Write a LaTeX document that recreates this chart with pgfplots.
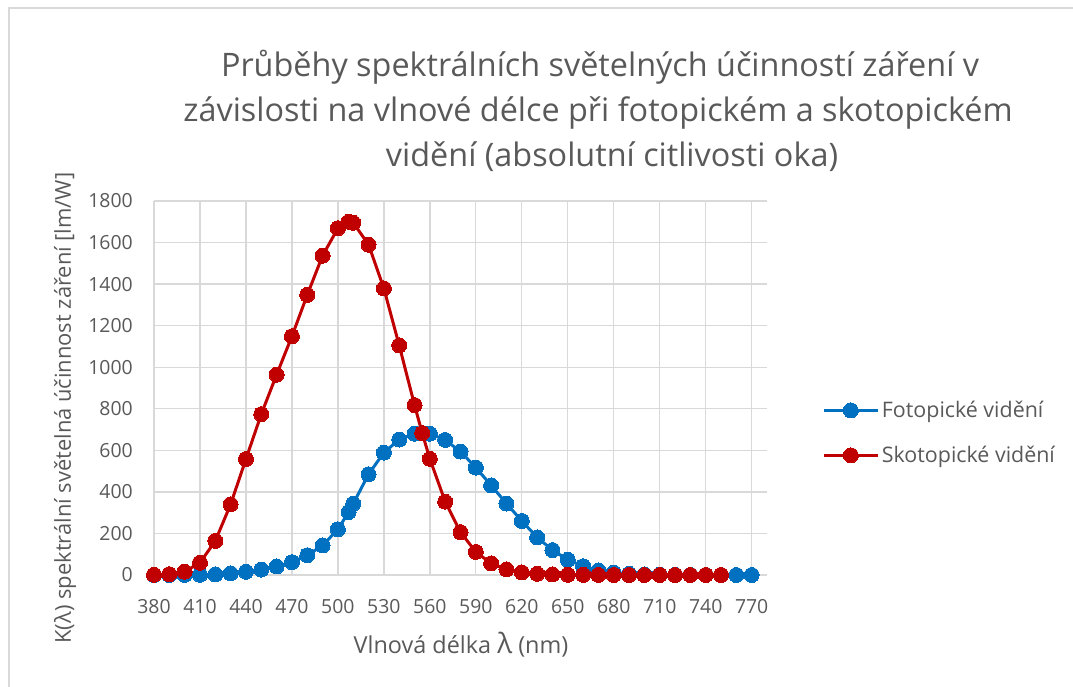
\documentclass[border=0pt]{standalone}
\usepackage{pgfplots}
\pgfplotsset{compat=1.18}
\usepackage{fontspec}
\setmainfont{Open Sans}
\definecolor{fblue}{HTML}{0070C0}
\definecolor{sred}{HTML}{C00000}
\definecolor{tgray}{HTML}{595959}
\definecolor{gridc}{HTML}{D9D9D9}
\begin{document}
\begin{tikzpicture}[x=1bp,y=1bp]
\useasboundingbox (0,0) rectangle (1073,687);
\draw[color=gridc, line width=1.5bp] (9,0) -- (9,679) -- (1073,679);
\begin{axis}[
  at={(154bp,112bp)}, anchor=south west,
  width=613bp, height=374bp, scale only axis,
  xmin=380, xmax=780, ymin=0, ymax=1800,
  xtick={380,410,...,770}, ytick={0,200,...,1800},
  axis line style={draw=none},
  major tick length=0pt,
  grid=major,
  grid style={color=gridc, line width=1.3bp},
  /pgf/number format/assume math mode=true,
  /pgf/number format/1000 sep={},
  tick label style={font=\fontsize{19.5}{23}\selectfont, text=tgray},
  yticklabel style={anchor=east, inner sep=0pt, xshift=-21bp},
  xticklabel style={anchor=north, inner sep=0pt, yshift=-24bp},
  legend style={at={(1.09,0.38)}, anchor=west, draw=none, fill=none, inner sep=0pt,
    row sep=22bp, font=\fontsize{21.5}{25}\selectfont, text=tgray,
    nodes={inner sep=2.5bp}},
  legend cell align=left,
  legend image code/.code={\draw[mark repeat=2,mark phase=2] plot coordinates {(0bp,0bp) (27bp,0bp) (54bp,0bp)};},
  clip=false,
]
\addplot[color=fblue, line width=3bp, mark=*, mark size=7.5bp, mark options={solid, fill=fblue, draw=fblue, line width=0pt}] coordinates {
(380,0.03) (390,0.08) (400,0.27) (410,0.82) (420,2.73) (430,7.9) (440,15.7) (450,26) (460,41) (470,62)
(480,95) (490,142) (500,220) (507,303) (510,343) (520,485) (530,589) (540,652) (550,680) (555,683)
(560,680) (570,650) (580,594) (590,517) (600,431) (610,344) (620,260) (630,181) (640,120) (650,73)
(660,42) (670,22) (680,11.6) (690,5.6) (700,2.8) (710,1.4) (720,0.7) (730,0.36) (740,0.17) (750,0.08)
(760,0.04) (770,0.02)
};
\addlegendentry{Fotopické vidění}
\addplot[color=sred, line width=3bp, mark=*, mark size=7.5bp, mark options={solid, fill=sred, draw=sred, line width=0pt}] coordinates {
(380,1.0) (390,3.8) (400,15.8) (410,59) (420,164) (430,340) (440,558) (450,774) (460,964) (470,1149)
(480,1348) (490,1537) (500,1669) (507,1700) (510,1695) (520,1590) (530,1379) (540,1105) (550,818) (555,683)
(560,559) (570,353) (580,206) (590,111) (600,56) (610,27) (620,12.5) (630,5.7) (640,2.5) (650,1.15)
(660,0.53) (670,0.25) (680,0.12) (690,0.06) (700,0.03) (710,0.015) (720,0.008) (730,0.004) (740,0.002) (750,0.001)
};
\addlegendentry{Skotopické vidění}
\end{axis}
\node[anchor=base, text=tgray, font=\fontsize{32.5}{38}\selectfont] at (600,610) {Průběhy spektrálních světelných účinností záření v};
\node[anchor=base, text=tgray, font=\fontsize{32.5}{38}\selectfont] at (598,565) {závislosti na vlnové délce při fotopickém a skotopickém};
\node[anchor=base, text=tgray, font=\fontsize{32.5}{38}\selectfont] at (612,520) {vidění (absolutní citlivosti oka)};
\node[anchor=base, text=tgray, font=\fontsize{23.5}{27}\selectfont] at (461,33) {Vlnová délka {\fontsize{28}{29}\selectfont λ} (nm)};
\node[rotate=90, text=tgray, font=\fontsize{22}{26}\selectfont] at (65,279) {K(λ) spektrální světelná účinnost záření [lm/W]};
\end{tikzpicture}
\end{document}
